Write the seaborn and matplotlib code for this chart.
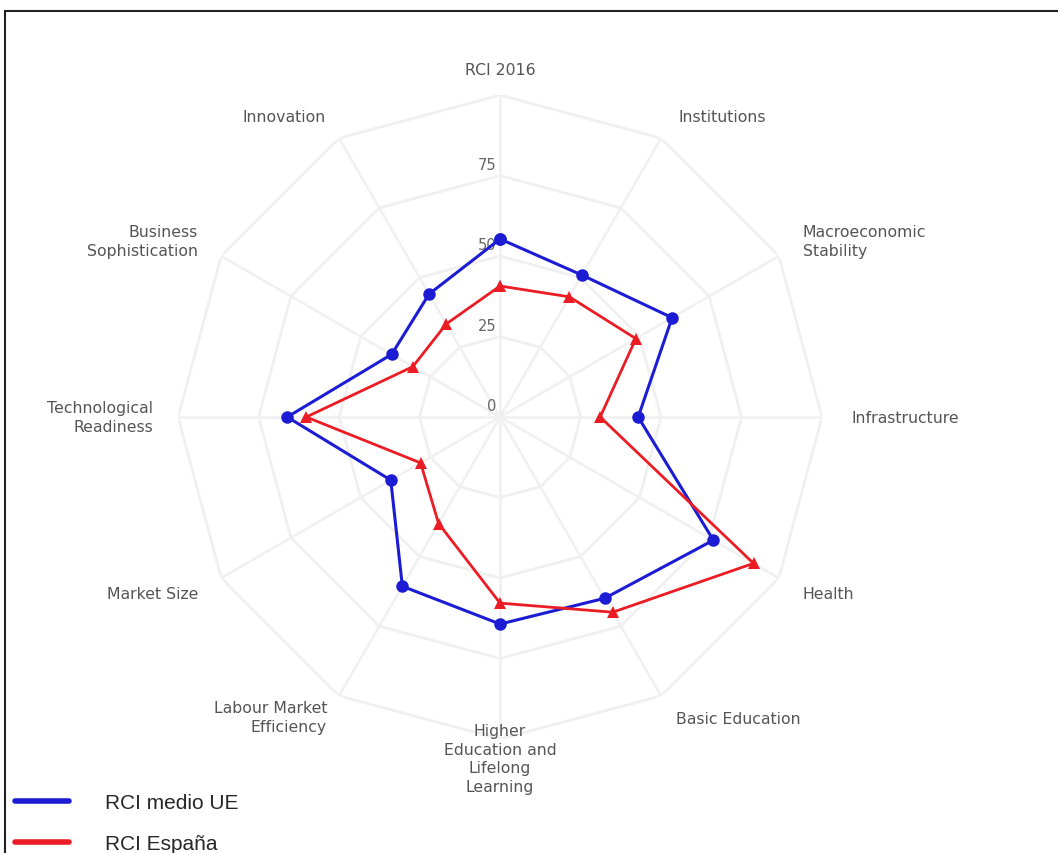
import numpy as np
import pandas as pd
import matplotlib
matplotlib.use("Agg")
import matplotlib.pyplot as plt
from matplotlib.lines import Line2D
import seaborn as sns

# Categories, clockwise from the top
categories = [
    "RCI 2016", "Institutions", "Macroeconomic\nStability", "Infrastructure",
    "Health", "Basic Education", "Higher\nEducation and\nLifelong\nLearning",
    "Labour Market\nEfficiency", "Market Size", "Technological\nReadiness",
    "Business\nSophistication", "Innovation",
]
rci_ue = [55.3, 50.9, 61.7, 42.9, 76.5, 65.0, 64.3, 60.7, 39.2, 66.1, 38.9, 44.1]
rci_es = [40.7, 43.1, 48.7, 31.1, 90.9, 70.0, 57.8, 38.2, 28.5, 60.2, 31.3, 33.4]
radial_ticks = [0, 25, 50, 75]
series_names = ["RCI medio UE", "RCI España"]

BLUE = "#1c1cd4"
RED = "#ec1c24"
GRID = "#f0f0f0"

sns.set_theme(style="white")
plt.rcParams["font.family"] = ["DejaVu Sans"]

n = len(categories)
angles = np.linspace(0, 2 * np.pi, n, endpoint=False)
closed = np.append(angles, 2 * np.pi)

fig = plt.figure(figsize=(10.58, 8.54), dpi=100)
ax = fig.add_axes([0.1683, 0.1335, 0.6087, 0.754], projection="polar")
ax.set_theta_zero_location("N")
ax.set_theta_direction(-1)
ax.set_ylim(0, 100)
ax.grid(False)
ax.spines["polar"].set_visible(False)
ax.set_xticks([])
ax.set_yticks([])
ax.set_facecolor("white")

# polygon grid
for lvl in [25, 50, 75, 100]:
    ax.plot(closed, [lvl] * (n + 1), color=GRID, lw=2, zorder=1)
for a in angles:
    ax.plot([a, a], [0, 100], color=GRID, lw=1.8, zorder=1)

# radial tick labels
for t in radial_ticks:
    ax.annotate(str(t), xy=(0, t), xytext=(-4, 4), textcoords="offset pixels",
                ha="right", va="bottom", fontsize=10.5, color="#666666", zorder=2)

# data
df = pd.DataFrame({
    "theta": np.concatenate([closed, closed]),
    "value": rci_ue + rci_ue[:1] + rci_es + rci_es[:1],
    "serie": [series_names[0]] * (n + 1) + [series_names[1]] * (n + 1),
})
sns.lineplot(data=df[df.serie == series_names[0]], x="theta", y="value", sort=False,
             color=BLUE, lw=2.2, marker="o", markersize=9, markeredgewidth=0,
             ax=ax, legend=False, zorder=4)
sns.lineplot(data=df[df.serie == series_names[1]], x="theta", y="value", sort=False,
             color=RED, lw=2, marker="^", markersize=8, markeredgewidth=0,
             ax=ax, legend=False, zorder=5)
ax.set_xlabel("")
ax.set_ylabel("")
ax.set_ylim(0, 100)

# category labels (offsets in pixels from the spoke tips)
offsets = [(0, 26, "center"), (61, 22, "center"), (24, 15, "left"), (29, 0, "left"),
           (24, -15, "left"), (15, -23, "left"), (0, 16, "center"), (-12, -21, "right"),
           (-23, -15, "right"), (-25, 0, "right"), (-23, 15, "right"), (-13, 22, "right")]
for a, lab, (dx, dy, ha) in zip(angles, categories, offsets):
    va = "top" if "Higher" in lab else "center"
    ax.annotate(lab, xy=(a, 100), xytext=(dx, dy), textcoords="offset pixels",
                ha=ha, va=va, multialignment=ha,
                fontsize=11.3, color="#555555", annotation_clip=False, linespacing=1.3)

# legend
handles = [Line2D([0], [0], color=BLUE, lw=4), Line2D([0], [0], color=RED, lw=4)]
fig.legend(handles, series_names, loc="upper left", bbox_to_anchor=(15 / 1058, 1 - 794 / 854),
           frameon=False, handlelength=2.6, handletextpad=1.7,
           labelspacing=1.05, borderpad=0, borderaxespad=0,
           prop={"family": "Liberation Sans", "size": 15})

# border of the original box
fig.add_artist(Line2D([5 / 1058, 1], [1 - 12 / 854, 1 - 12 / 854], color="#222222", lw=1.5))
fig.add_artist(Line2D([5 / 1058, 5 / 1058], [0, 1 - 12 / 854], color="#222222", lw=1.5))

fig.savefig("out.png", dpi=100, facecolor="white")
